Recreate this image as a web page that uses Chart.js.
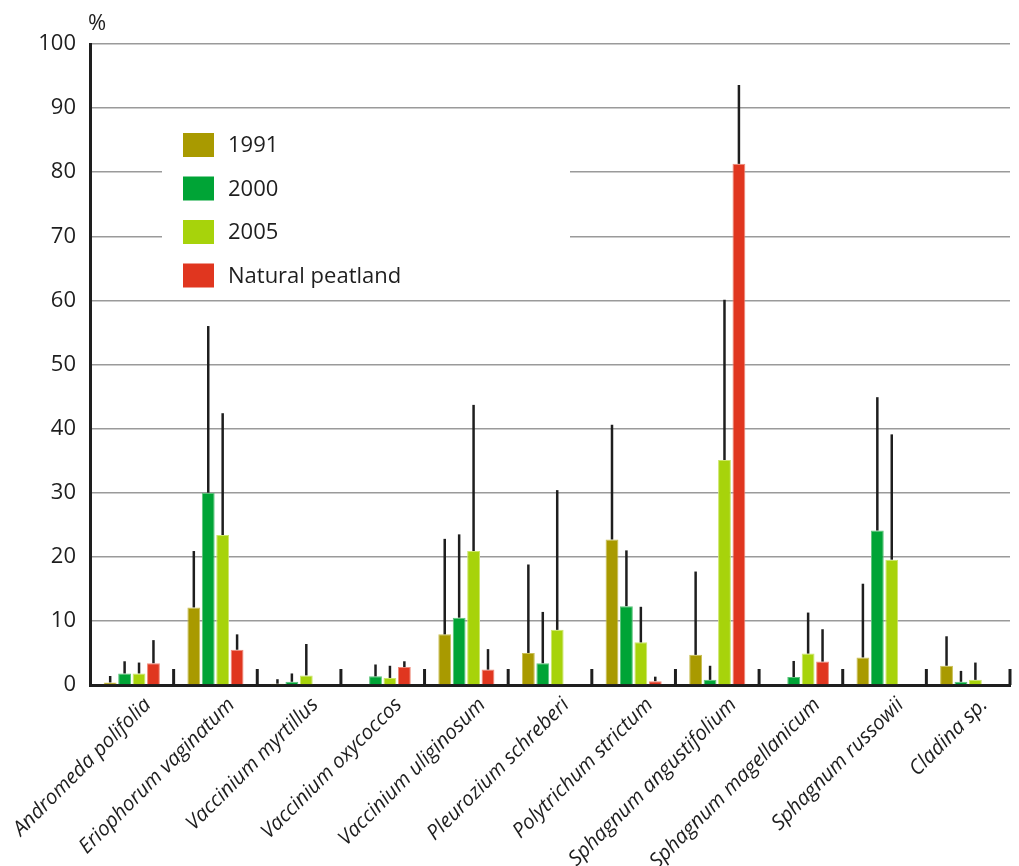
<!DOCTYPE html>
<html>
<head>
<meta charset="utf-8">
<script src="https://cdn.jsdelivr.net/npm/chart.js@4"></script>
<style>
  html, body { margin: 0; padding: 0; background: #fff; }
  #wrap { width: 1019px; height: 866px; }
</style>
</head>
<body>
<div id="wrap"><canvas id="speciesChart" width="1019" height="866"></canvas></div>
<script>
// --------------------------------
// Data
// --------------------------------
const species = [
  "Andromeda polifolia",
  "Eriophorum vaginatum",
  "Vaccinium myrtillus",
  "Vaccinium oxycoccos",
  "Vaccinium uliginosum",
  "Pleurozium schreberi",
  "Polytrichum strictum",
  "Sphagnum angustifolium",
  "Sphagnum magellanicum",
  "Sphagnum russowii",
  "Cladina sp.",
];

const seriesNames = ["1991", "2000", "2005", "Natural peatland"];
const seriesColors = ["#a99a00", "#00a436", "#a7d30b", "#e0361f"];
const seriesEdges = ["#c9bf55", "#5cc47a", "#cce66a", "#ee8a7a"];

// mean cover (%)
const cover1991 = [0.4, 12.1, 0.2, 0, 7.9, 5.0, 22.7, 4.7, 0, 4.3, 3.0];
const cover2000 = [1.8, 30.0, 0.5, 1.35, 10.5, 3.4, 12.3, 0.8, 1.25, 24.1, 0.5];
const cover2005 = [1.8, 23.4, 1.5, 1.1, 20.9, 8.6, 6.65, 35.1, 4.9, 19.55, 0.8];
const coverNatural = [3.4, 5.5, 0, 2.8, 2.4, 0, 0.6, 81.3, 3.65, 0, 0];

// top of the error whisker (%), null = no whisker
const upper1991 = [1.4, 20.9, 0.9, null, 22.8, 18.8, 40.6, 17.7, null, 15.8, 7.6];
const upper2000 = [3.7, 56.0, 1.8, 3.2, 23.5, 11.4, 21.0, 3.0, 3.75, 44.9, 2.2];
const upper2005 = [3.5, 42.4, 6.4, 3.0, 43.7, 30.4, 12.2, 60.1, 11.3, 39.1, 3.5];
const upperNatural = [7.0, 7.9, null, 3.7, 5.6, null, 1.3, 93.6, 8.7, null, null];

const yTicks = [0, 10, 20, 30, 40, 50, 60, 70, 80, 90, 100];

const allCover = [cover1991, cover2000, cover2005, coverNatural];
const allUpper = [upper1991, upper2000, upper2005, upperNatural];

// -------------------------------
// Helpers / plugins
// -------------------------------
const FONT = "'Open Sans', 'Noto Sans', sans-serif";
const INK = "#1e1e1e";

// white box behind legend (cuts the grid lines) + legend itself
const legendBox = {
  id: "legendBox",
  beforeDatasetsDraw(chart) {
    const ctx = chart.ctx;
    ctx.save();
    ctx.fillStyle = "#fff";
    ctx.fillRect(162, 118, 408, 176);
    ctx.restore();
  },
  afterDraw(chart) {
    const ctx = chart.ctx;
    ctx.save();
    ctx.font = `22px ${FONT}`;
    ctx.textBaseline = "middle";
    seriesNames.forEach((name, i) => {
      const cy = 145 + i * 43.5;
      ctx.fillStyle = seriesColors[i];
      ctx.fillRect(183, cy - 12, 31, 24);
      ctx.fillStyle = INK;
      ctx.fillText(name, 228, cy + 1);
    });
    // unit label
    ctx.font = `22px ${FONT}`;
    ctx.textBaseline = "alphabetic";
    ctx.fillText("%", 88, 30);
    ctx.restore();
  },
};

// whiskers + category separator marks
const whiskers = {
  id: "whiskers",
  afterDatasetsDraw(chart) {
    const ctx = chart.ctx;
    const y = chart.scales.y;
    const x = chart.scales.x;
    ctx.save();
    ctx.strokeStyle = INK;
    ctx.lineWidth = 2.5;
    allUpper.forEach((ups, d) => {
      const meta = chart.getDatasetMeta(d);
      ups.forEach((u, i) => {
        if (u == null) return;
        const bar = meta.data[i];
        ctx.beginPath();
        ctx.moveTo(bar.x, y.getPixelForValue(allCover[d][i]));
        ctx.lineTo(bar.x, y.getPixelForValue(u));
        ctx.stroke();
      });
    });
    // separators between species groups
    ctx.lineWidth = 3;
    const half = (x.getPixelForValue(1) - x.getPixelForValue(0)) / 2;
    for (let i = 1; i <= species.length; i++) {
      const px = x.getPixelForValue(i) - half;
      ctx.beginPath();
      ctx.moveTo(px, y.getPixelForValue(0));
      ctx.lineTo(px, y.getPixelForValue(2.5));
      ctx.stroke();
    }
    ctx.restore();
  },
};

// -------------------------------
// Chart
// -------------------------------
new Chart(document.getElementById("speciesChart").getContext("2d"), {
  type: "bar",
  data: {
    labels: species,
    datasets: seriesNames.map((name, i) => ({
      label: name,
      data: allCover[i],
      backgroundColor: seriesColors[i],
      borderColor: seriesEdges[i],
      borderWidth: 1,
      borderSkipped: "bottom",
      categoryPercentage: 0.69,
      barPercentage: 0.89,
    })),
  },
  options: {
    responsive: false,
    animation: false,
    layout: { padding: { top: 0, right: 9, left: 0, bottom: 0 } },
    plugins: { legend: { display: false }, tooltip: { enabled: false } },
    scales: {
      x: {
        grid: { display: false },
        border: { color: INK, width: 3 },
        ticks: {
          color: INK,
          font: { family: FONT, size: 20.5, style: "italic" },
          minRotation: 45,
          maxRotation: 45,
          autoSkip: false,
          padding: 0,
          labelOffset: 16,
        },
        afterFit: (s) => { s.height = 181; s.paddingLeft = 0; s.paddingRight = 0; },
      },
      y: {
        min: 0,
        max: 100,
        afterBuildTicks: (s) => { s.ticks = yTicks.map((v) => ({ value: v })); },
        grid: { color: "#9a9a9a", lineWidth: 1.5, drawTicks: false },
        border: { color: INK, width: 3 },
        ticks: {
          color: INK,
          font: { family: FONT, size: 22 },
          padding: 14,
        },
        afterFit: (s) => { s.width = 90; s.paddingTop = 44; },
      },
    },
  },
  plugins: [legendBox, whiskers],
});
</script>
</body>
</html>
